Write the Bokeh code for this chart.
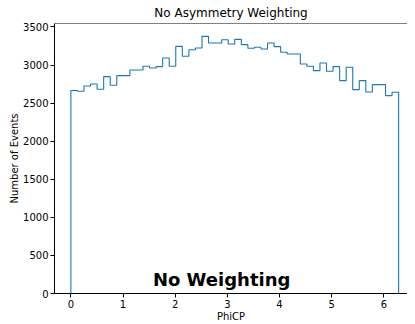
import numpy as np
from bokeh.plotting import figure
from bokeh.models import Range1d, FixedTicker, Label, Span
from bokeh.embed import file_html
from bokeh.resources import INLINE

# ---- data ----
TWO_PI = 2 * np.pi
n_bins = 50
counts = [
    2665, 2656, 2726, 2752, 2683, 2848, 2735, 2861, 2861, 2936,
    2936, 2984, 2962, 2980, 3093, 2984, 3246, 3115, 3202, 3224,
    3377, 3290, 3290, 3333, 3277, 3338, 3268, 3220, 3233, 3211,
    3290, 3242, 3168, 3146, 3146, 3014, 2984, 2927, 3028, 2918,
    2980, 2796, 2971, 2678, 2796, 2647, 2743, 2743, 2599, 2643,
]
x_ticks = [0, 1, 2, 3, 4, 5, 6]
y_ticks = [0, 500, 1000, 1500, 2000, 2500, 3000, 3500]
title_text = "No Asymmetry Weighting"
annot_text = "No Weighting"
x_label = "PhiCP"
y_label = "Number of Events"

edges = np.linspace(0, TWO_PI, n_bins + 1)
c = np.asarray(counts, dtype=float)
# step outline (matplotlib histtype='step')
xs = np.concatenate([[edges[0]], np.repeat(edges, 2)[1:-1], [edges[-1]]])
ys = np.concatenate([[0.0], np.repeat(c, 2), [0.0]])

FONT = "DejaVu Sans"

p = figure(
    frame_width=353, frame_height=270,
    output_backend="svg", toolbar_location=None,
    x_range=Range1d(-0.05 * TWO_PI, 1.0271 * TWO_PI),
    y_range=Range1d(0, c.max() * 1.05),
    min_border_left=54, min_border_right=0,
    min_border_top=23, min_border_bottom=26,
    title=title_text,
)
p.title.align = "center"
p.title.text_font = FONT
p.title.text_font_size = "12px"
p.title.text_font_style = "normal"
p.title.text_color = "black"
p.title.standoff = 7

p.outline_line_color = None
p.grid.visible = False
p.background_fill_color = "white"
p.border_fill_color = "white"

p.line(xs, ys, line_color="#1f77b4", line_width=1.1)

# top spine
p.add_layout(Span(location=c.max() * 1.05, dimension="width",
                  line_color="black", line_width=1))

for ax, ticks, lab in ((p.xaxis[0], x_ticks, x_label), (p.yaxis[0], y_ticks, y_label)):
    ax.ticker = FixedTicker(ticks=ticks)
    ax.minor_tick_line_color = None
    ax.major_tick_out = 4
    ax.major_tick_in = 0
    ax.major_tick_line_color = "black"
    ax.axis_line_color = "black"
    ax.major_label_text_font = FONT
    ax.major_label_text_font_size = "10px"
    ax.major_label_text_color = "black"
    ax.major_label_standoff = 2
    ax.axis_label = lab
    ax.axis_label_text_font = FONT
    ax.axis_label_text_font_size = "10px"
    ax.axis_label_text_font_style = "normal"
    ax.axis_label_text_color = "black"
    ax.axis_label_standoff = 0

p.add_layout(Label(x=2.89, y=180, text=annot_text, text_align="center",
                   text_baseline="alphabetic", text_font=FONT,
                   text_font_size="18px", text_font_style="bold",
                   text_color="black"))

open("out.html", "w").write(file_html(p, INLINE))
